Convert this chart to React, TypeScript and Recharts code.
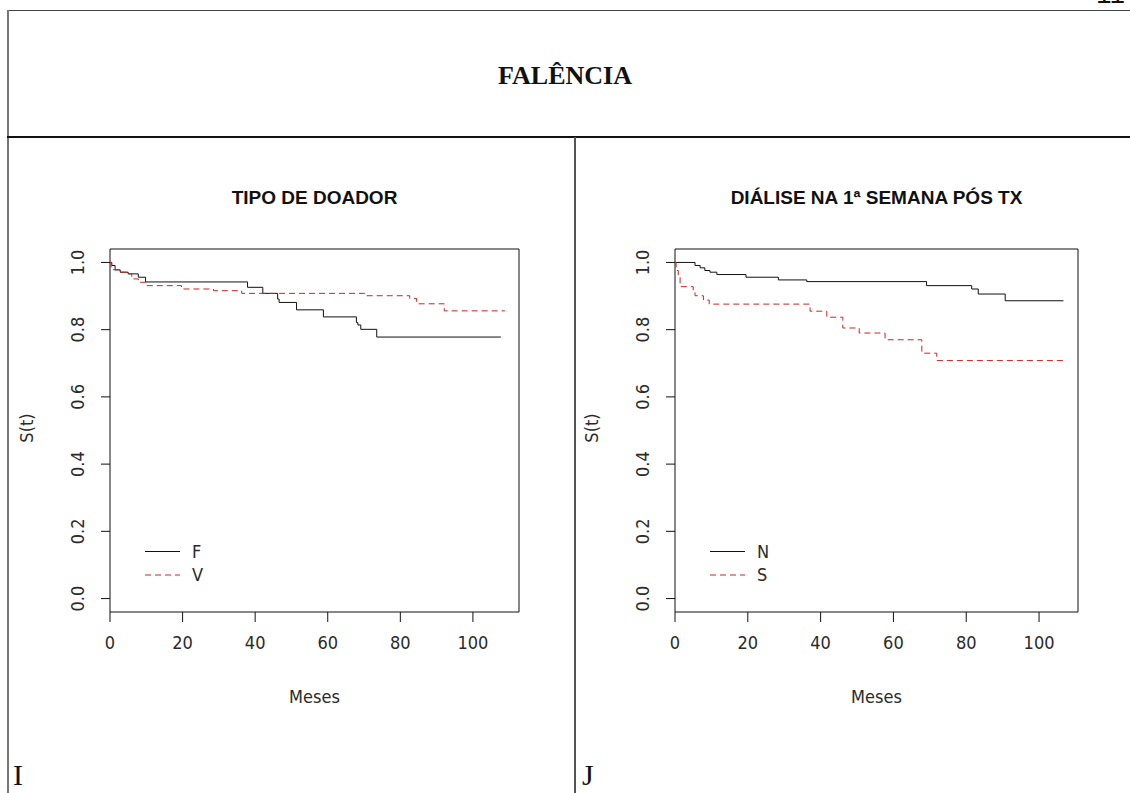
import { Legend, Line, LineChart, ReferenceArea, XAxis, YAxis } from 'recharts';

// eixos
const mesesTicks = [0, 20, 40, 60, 80, 100];
const survTicks = [0, 0.2, 0.4, 0.6, 0.8, 1.0];

// TIPO DE DOADOR — F
const doadorFTempo = [0, 0.5, 1.4, 2.8, 5.0, 7.8, 9.8, 37.9, 42.1, 46.2, 46.6, 51.4, 58.8, 67.9, 68.3, 69.1, 73.5, 107.7];
const doadorFSobrev = [1.0, 0.991, 0.978, 0.971, 0.966, 0.956, 0.942, 0.926, 0.908, 0.891, 0.881, 0.859, 0.838, 0.821, 0.814, 0.801, 0.778, 0.778];

// TIPO DE DOADOR — V
const doadorVTempo = [0, 0.3, 0.9, 2.8, 5.0, 6.0, 7.8, 9.8, 19.7, 28.5, 36.3, 70.2, 82.6, 84.5, 92.1, 108.8];
const doadorVSobrev = [1.0, 0.986, 0.978, 0.971, 0.966, 0.951, 0.941, 0.931, 0.921, 0.916, 0.908, 0.901, 0.893, 0.877, 0.856, 0.856];

// DIÁLISE NA 1ª SEMANA — N
const dialiseNTempo = [0, 5.5, 6.9, 8.2, 9.6, 11.5, 19.5, 28.4, 36.2, 69.1, 81.5, 83.3, 90.7, 106.7];
const dialiseNSobrev = [1.0, 0.991, 0.984, 0.976, 0.971, 0.964, 0.956, 0.948, 0.943, 0.931, 0.921, 0.906, 0.886, 0.886];

// DIÁLISE NA 1ª SEMANA — S
const dialiseSTempo = [0, 0.3, 0.9, 1.4, 5.0, 5.5, 7.8, 9.4, 37.1, 41.7, 46.1, 50.6, 57.7, 67.8, 71.9, 106.7];
const dialiseSSobrev = [1.0, 0.976, 0.956, 0.928, 0.916, 0.901, 0.888, 0.876, 0.855, 0.837, 0.805, 0.79, 0.77, 0.73, 0.708, 0.708];

const RED = '#cc2424';
const TEXT = '#2a2a2a';
const FONT = '"Liberation Sans", Arial, sans-serif';
const NARROW = '"Liberation Sans Narrow", "Arial Narrow", "DejaVu Sans Condensed", sans-serif';

interface Serie {
  name: string;
  tempo: number[];
  sobrev: number[];
  color: string;
  dash?: string;
}

interface PanelProps {
  left: number;
  width: number;
  marginLeft: number;
  marginRight: number;
  xMax: number;
  title: string;
  series: Serie[];
}

const toPoints = (tempo: number[], sobrev: number[]) =>
  tempo.map((t, i) => ({ t, s: sobrev[i] }));

function YTick({ x, y, payload }: any) {
  return (
    <g transform={`translate(${x - 17.5},${y}) rotate(-90)`}>
      <text textAnchor="middle" fontSize={18} fontFamily={NARROW} fill={TEXT}>
        {Number(payload.value).toFixed(1)}
      </text>
    </g>
  );
}

function LegendBox({ series }: { series: Serie[] }) {
  return (
    <svg width={80} height={48}>
      {series.map((s, i) => (
        <g key={s.name}>
          <line
            x1={0}
            x2={35}
            y1={11.5 + i * 23.5}
            y2={11.5 + i * 23.5}
            stroke={s.color}
            strokeWidth={1}
            strokeDasharray={s.dash}
          />
          <text
            x={47}
            y={11.5 + i * 23.5}
            dy="0.36em"
            fontSize={18}
            fontFamily={NARROW}
            fill={TEXT}
          >
            {s.name}
          </text>
        </g>
      ))}
    </svg>
  );
}

function SurvPanel({ left, width, marginLeft, marginRight, xMax, title, series }: PanelProps) {
  const plotLeft = marginLeft + 90;
  const plotRight = width - marginRight;
  const center = left + (plotLeft + plotRight) / 2;
  return (
    <>
      <div
        style={{
          position: 'absolute',
          left: center - 250,
          top: 187,
          width: 500,
          textAlign: 'center',
          font: `bold 19px ${FONT}`,
          color: '#111'
        }}
      >
        {title}
      </div>
      <div style={{ position: 'absolute', left, top: 140 }}>
        <LineChart
          width={width}
          height={650}
          margin={{ top: 109, right: marginRight, bottom: 118, left: marginLeft }}
        >
          <XAxis
            type="number"
            dataKey="t"
            domain={[0, xMax]}
            ticks={mesesTicks}
            allowDataOverflow
            height={60}
            axisLine={false}
            tickLine={{ stroke: '#111' }}
            tickSize={10}
            tickMargin={14}
            tick={{ fontSize: 18, fontFamily: NARROW, fill: TEXT }}
          />
          <YAxis
            type="number"
            dataKey="s"
            domain={[-0.04, 1.04]}
            ticks={survTicks}
            allowDataOverflow
            width={90}
            axisLine={false}
            tickLine={{ stroke: '#111' }}
            tickSize={9}
            tickMargin={0}
            tick={<YTick />}
          />
          <ReferenceArea
            x1={0}
            x2={xMax}
            y1={-0.04}
            y2={1.04}
            fill="none"
            stroke="#111"
            strokeWidth={1}
            ifOverflow="visible"
          />
          {series.map((s) => (
            <Line
              key={s.name}
              name={s.name}
              data={toPoints(s.tempo, s.sobrev)}
              dataKey="s"
              type="stepAfter"
              stroke={s.color}
              strokeWidth={1}
              strokeDasharray={s.dash}
              dot={false}
              activeDot={false}
              isAnimationActive={false}
            />
          ))}
          <Legend
            layout="vertical"
            align="center"
            verticalAlign="middle"
            wrapperStyle={{ left: plotLeft + 35, top: 400, width: 80, height: 48 }}
            content={() => <LegendBox series={series} />}
          />
        </LineChart>
      </div>
      <div
        style={{
          position: 'absolute',
          left: center - 100,
          top: 686,
          width: 200,
          textAlign: 'center',
          font: `18px ${NARROW}`,
          color: TEXT
        }}
      >
        Meses
      </div>
      <div
        style={{
          position: 'absolute',
          left: left + plotLeft - 83 - 100,
          top: 428 - 11,
          width: 200,
          height: 22,
          lineHeight: '22px',
          textAlign: 'center',
          transform: 'rotate(-90deg)',
          font: `18px ${NARROW}`,
          color: TEXT
        }}
      >
        S(t)
      </div>
    </>
  );
}

export default function App() {
  const doador: Serie[] = [
    { name: 'F', tempo: doadorFTempo, sobrev: doadorFSobrev, color: '#111' },
    { name: 'V', tempo: doadorVTempo, sobrev: doadorVSobrev, color: RED, dash: '6 4' }
  ];
  const dialise: Serie[] = [
    { name: 'N', tempo: dialiseNTempo, sobrev: dialiseNSobrev, color: '#111' },
    { name: 'S', tempo: dialiseSTempo, sobrev: dialiseSSobrev, color: RED, dash: '6 4' }
  ];

  return (
    <div
      style={{
        position: 'absolute',
        left: 0,
        top: 0,
        width: 1130,
        height: 793,
        background: '#fff',
        overflow: 'hidden'
      }}
    >
      {/* número da página, cortado no topo como no original */}
      <div
        style={{
          position: 'absolute',
          left: 1096,
          top: -20,
          font: `28px ${FONT}`,
          color: '#111',
          lineHeight: '28px'
        }}
      >
        11
      </div>

      {/* moldura */}
      <div style={{ position: 'absolute', left: 7, top: 10, width: 1123, height: 1, background: '#444' }} />
      <div style={{ position: 'absolute', left: 7, top: 10, width: 2, height: 783, background: '#777' }} />
      <div style={{ position: 'absolute', left: 7, top: 136, width: 1123, height: 2, background: '#111' }} />
      <div style={{ position: 'absolute', left: 574, top: 137, width: 2, height: 656, background: '#555' }} />

      <div
        style={{
          position: 'absolute',
          left: 0,
          top: 61,
          width: 1130,
          textAlign: 'center',
          font: 'bold 26px "Liberation Serif", "Times New Roman", serif',
          color: '#111'
        }}
      >
        FALÊNCIA
      </div>

      <SurvPanel
        left={0}
        width={570}
        marginLeft={20}
        marginRight={51}
        xMax={112.7}
        title="TIPO DE DOADOR"
        series={doador}
      />
      <SurvPanel
        left={575}
        width={555}
        marginLeft={10}
        marginRight={52}
        xMax={110.7}
        title="DIÁLISE NA 1ª SEMANA PÓS TX"
        series={dialise}
      />

      <div
        style={{
          position: 'absolute',
          left: 13,
          top: 758,
          font: '30px "Liberation Serif", "Times New Roman", serif',
          color: '#111'
        }}
      >
        I
      </div>
      <div
        style={{
          position: 'absolute',
          left: 582,
          top: 758,
          font: '30px "Liberation Serif", "Times New Roman", serif',
          color: '#111'
        }}
      >
        J
      </div>
    </div>
  );
}
